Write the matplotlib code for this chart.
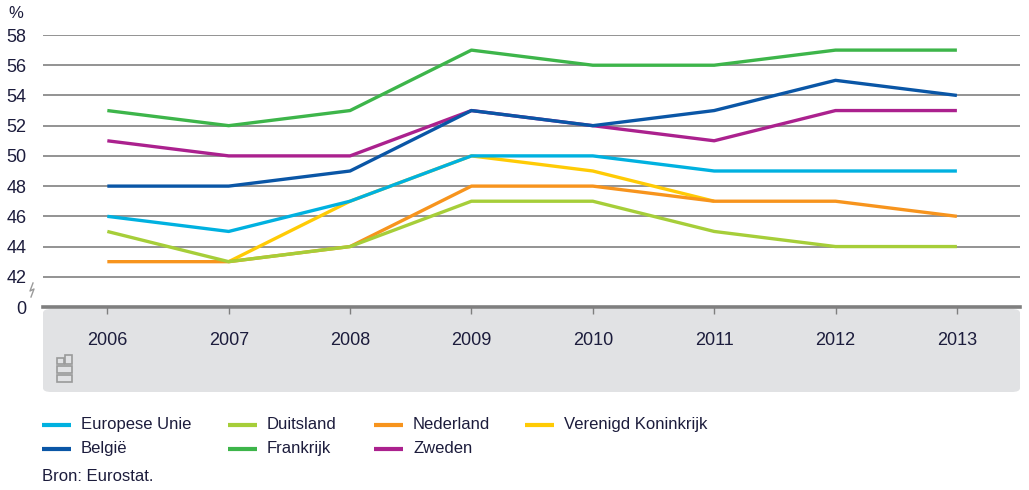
import numpy as np
import matplotlib
matplotlib.use('Agg')
import matplotlib.pyplot as plt
from matplotlib.lines import Line2D
from matplotlib.patches import FancyBboxPatch, Rectangle

# data
years = [2006, 2007, 2008, 2009, 2010, 2011, 2012, 2013]
eu = [46, 45, 47, 50, 50, 49, 49, 49]
belgie = [48, 48, 49, 53, 52, 53, 55, 54]
duitsland = [45, 43, 44, 47, 47, 45, 44, 44]
frankrijk = [53, 52, 53, 57, 56, 56, 57, 57]
nederland = [43, 43, 44, 48, 48, 47, 47, 46]
zweden = [51, 50, 50, 53, 52, 51, 53, 53]
vk = [np.nan, 43, 47, 50, 49, 47, np.nan, np.nan]

ytick_vals = [40, 42, 44, 46, 48, 50, 52, 54, 56, 58]
ytick_labels = ['0', '42', '44', '46', '48', '50', '52', '54', '56', '58']

plt.rcParams['font.family'] = ['Liberation Sans', 'DejaVu Sans']

txt = '#1c1c3c'
grid_c = '#8a8a8a'
fs = 12

W, H = 1029, 490
fig = plt.figure(figsize=(W / 100, H / 100), dpi=100)


def fx(x):
    return x / W


def fy(y):
    return 1 - y / H


ax = fig.add_axes([fx(43), fy(307), fx(1020) - fx(43), fy(35) - fy(307)])
ax.set_xlim(2005.47, 2013.52)
ax.set_ylim(40, 58)

# grey band under the chart
band = FancyBboxPatch((fx(43), fy(392)), fx(1020) - fx(43), fy(309) - fy(392),
                      boxstyle='round,pad=0,rounding_size=0.008',
                      transform=fig.transFigure, facecolor='#e1e2e4',
                      edgecolor='none', zorder=-5)
fig.patches.append(band)

for v in ytick_vals[1:]:
    ax.axhline(v, color=grid_c, linewidth=1.3, zorder=1)

series = [
    (vk, '#ffcb05'),
    (eu, '#00b1e0'),
    (frankrijk, '#3db54a'),
    (zweden, '#ab218e'),
    (belgie, '#0a56a6'),
    (nederland, '#f7941d'),
    (duitsland, '#a6ce39'),
]
for vals, col in series:
    ax.plot(years, vals, color=col, linewidth=2.4, solid_capstyle='butt', zorder=3)

for s in ['top', 'right', 'left']:
    ax.spines[s].set_visible(False)
ax.spines['bottom'].set_color('#7f7f7f')
ax.spines['bottom'].set_linewidth(2.6)

ax.set_yticks(ytick_vals)
ax.set_yticklabels(ytick_labels)
ax.tick_params(axis='y', length=0, pad=12, labelsize=fs + 1, labelcolor=txt)
ax.set_xticks(years)
ax.set_xticklabels([str(y) for y in years])
ax.tick_params(axis='x', direction='out', length=5, width=1, color='#7f7f7f',
               pad=13, labelsize=fs + 1, labelcolor=txt)
ax.patch.set_alpha(0)

fig.text(fx(8), fy(14), '%', fontsize=fs, color=txt, va='center', ha='left')

# axis break mark
fig.lines.append(Line2D([fx(31), fx(34), fx(30), fx(33)],
                        [fy(297), fy(289), fy(291), fy(283)],
                        transform=fig.transFigure, color='#9a9a9a', linewidth=1))

# small logo mark
lc = '#9a9a9a'
for (x0, y0, w, h) in [(57, 358, 7, 6), (65, 355, 7, 9), (57, 366, 15, 7), (57, 375, 15, 7)]:
    fig.patches.append(Rectangle((fx(x0), fy(y0 + h)), fx(w), h / H,
                                 transform=fig.transFigure, facecolor='none',
                                 edgecolor=lc, linewidth=1.2))

# legend
legend_items = [
    ('Europese Unie', '#00b1e0', 42, 424),
    ('Duitsland', '#a6ce39', 228, 424),
    ('Nederland', '#f7941d', 374, 424),
    ('Verenigd Koninkrijk', '#ffcb05', 525, 424),
    ('België', '#0a56a6', 42, 448),
    ('Frankrijk', '#3db54a', 228, 448),
    ('Zweden', '#ab218e', 374, 448),
]
for label, col, x0, y0 in legend_items:
    fig.lines.append(Line2D([fx(x0), fx(x0 + 29)], [fy(y0 + 1), fy(y0 + 1)],
                            transform=fig.transFigure, color=col, linewidth=3,
                            solid_capstyle='butt'))
    fig.text(fx(x0 + 39), fy(y0), label, fontsize=fs, color=txt, va='center', ha='left')

fig.text(fx(42), fy(476), 'Bron: Eurostat.', fontsize=fs, color=txt, va='center', ha='left')

fig.savefig('out.png', dpi=100)
